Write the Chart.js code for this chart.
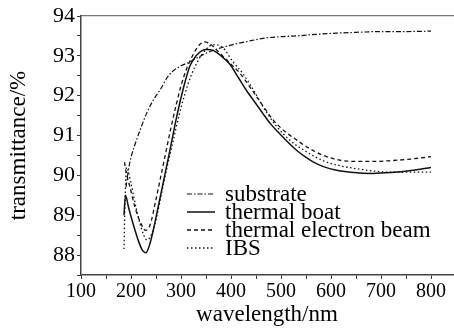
<!DOCTYPE html>
<html>
<head>
<meta charset="utf-8">
<script src="https://cdn.jsdelivr.net/npm/chart.js@4.4.1/dist/chart.umd.min.js"></script>
<style>
  html, body { margin: 0; padding: 0; background: #fff; }
  #wrap { width: 454px; height: 332px; }
</style>
</head>
<body>
<div id="wrap"><canvas id="chart" width="454" height="332"></canvas></div>
<script>
// Data (wavelength in nm, transmittance in %)
const wlSubstrate = [190, 195, 200, 210, 220, 231, 245, 258, 272, 284, 300, 318, 340, 360, 385, 410, 440, 464, 500, 531, 570, 611, 650, 700, 750, 800];
const tSubstrate  = [89.7, 90.15, 90.45, 90.85, 91.2, 91.55, 91.9, 92.14, 92.45, 92.62, 92.75, 92.85, 93.0, 93.12, 93.22, 93.3, 93.38, 93.44, 93.48, 93.5, 93.54, 93.57, 93.59, 93.61, 93.61, 93.62];

const wlBoat = [186, 189, 195, 205, 215, 223, 230, 237, 245, 255, 265, 278, 291, 305, 318, 330, 342, 352, 365, 380, 397, 415, 431, 448, 464, 480, 497, 514, 531, 548, 564, 585, 611, 640, 683, 720, 760, 800];
const tBoat  = [89.0, 89.5, 89.2, 88.75, 88.35, 88.12, 88.06, 88.25, 88.65, 89.25, 89.85, 90.64, 91.45, 92.2, 92.75, 93.0, 93.13, 93.16, 93.13, 93.0, 92.8, 92.45, 92.13, 91.83, 91.55, 91.28, 91.05, 90.83, 90.63, 90.47, 90.34, 90.22, 90.13, 90.08, 90.05, 90.07, 90.12, 90.2];

const wlBeam = [187, 190, 198, 208, 218, 229, 238, 250, 260, 270, 280, 290, 300, 312, 325, 337, 347, 358, 375, 395, 418, 440, 462, 485, 508, 530, 551, 585, 618, 650, 685, 720, 760, 800];
const tBeam  = [90.33, 90.1, 89.7, 89.2, 88.85, 88.62, 88.75, 89.4, 90.0, 90.6, 91.2, 91.75, 92.25, 92.7, 93.05, 93.28, 93.35, 93.3, 93.1, 92.85, 92.56, 92.18, 91.78, 91.38, 91.1, 90.9, 90.72, 90.5, 90.38, 90.35, 90.35, 90.37, 90.41, 90.47];

const wlIbs = [186, 188, 191, 200, 210, 220, 232, 242, 252, 262, 272, 284, 296, 308, 320, 333, 346, 358, 368, 384, 404, 424, 445, 465, 490, 518, 550, 584, 615, 650, 685, 717, 760, 800];
const tIbs  = [88.15, 89.3, 90.2, 89.8, 89.2, 88.7, 88.38, 88.55, 89.0, 89.6, 90.2, 90.85, 91.5, 92.05, 92.5, 92.85, 93.1, 93.25, 93.28, 93.2, 92.85, 92.55, 92.14, 91.7, 91.25, 90.88, 90.6, 90.37, 90.25, 90.17, 90.11, 90.08, 90.08, 90.08];

const seriesLabels = ['substrate', 'thermal boat', 'thermal electron beam', 'IBS'];

// tick positions (labels only on whole values)
const xTickValues = [100, 150, 200, 250, 300, 350, 400, 450, 500, 550, 600, 650, 700, 750, 800];
const yTickValues = [87.5, 88, 88.5, 89, 89.5, 90, 90.5, 91, 91.5, 92, 92.5, 93, 93.5, 94];

const toPoints = (xs, ys) => xs.map((x, i) => ({ x: x, y: ys[i] }));

const serif = '"Liberation Serif", "Times New Roman", serif';

function lineSet(label, xs, ys, dash, width) {
    return {
        label: label,
        data: toPoints(xs, ys),
        borderColor: '#111',
        borderWidth: width,
        borderDash: dash,
        pointRadius: 0,
        fill: false,
        cubicInterpolationMode: 'monotone'
    };
}

// legend drawn inside the plot, lower right
const insideLegend = {
    id: 'insideLegend',
    afterDraw(chart) {
        const { ctx, chartArea } = chart;
        const x0 = chartArea.left + 106;
        const y0 = chartArea.top + 178;
        chart.data.datasets.forEach((ds, i) => {
            const y = y0 + i * 18;
            ctx.save();
            ctx.strokeStyle = ds.borderColor;
            ctx.lineWidth = ds.borderWidth;
            ctx.setLineDash(ds.borderDash || []);
            ctx.beginPath();
            ctx.moveTo(x0, y);
            ctx.lineTo(x0 + 28, y);
            ctx.stroke();
            ctx.setLineDash([]);
            ctx.fillStyle = '#000';
            ctx.font = '23px ' + serif;
            ctx.textBaseline = 'middle';
            ctx.fillText(ds.label, x0 + 38, y + 1);
            ctx.restore();
        });
    }
};

new Chart(document.getElementById('chart'), {
    type: 'line',
    data: {
        datasets: [
            lineSet(seriesLabels[0], wlSubstrate, tSubstrate, [5, 2, 1.5, 2], 1.2),
            lineSet(seriesLabels[1], wlBoat, tBoat, [], 1.5),
            lineSet(seriesLabels[2], wlBeam, tBeam, [4, 3], 1.3),
            lineSet(seriesLabels[3], wlIbs, tIbs, [1.5, 2.5], 1.3)
        ]
    },
    options: {
        responsive: false,
        devicePixelRatio: 1,
        animation: false,
        layout: { padding: { top: 0, right: 1, bottom: 0, left: 0 } },
        plugins: {
            legend: { display: false },
            tooltip: { enabled: false }
        },
        scales: {
            x: {
                type: 'linear',
                position: 'bottom',
                min: 100,
                max: 844,
                afterFit: s => { s.height = 57; },
                afterBuildTicks: s => { s.ticks = xTickValues.map(v => ({ value: v })); },
                ticks: {
                    autoSkip: false,
                    maxRotation: 0,
                    padding: 1,
                    color: '#000',
                    font: { family: serif, size: 20 },
                    callback: v => (v % 100 === 0 ? v : '')
                },
                grid: { drawOnChartArea: false, tickLength: 4, tickColor: '#333' },
                border: { color: '#444', width: 1.5 },
                title: {
                    display: true,
                    text: 'wavelength/nm',
                    color: '#000',
                    font: { family: serif, size: 23 },
                    padding: { top: 0, bottom: 3 }
                }
            },
            xTop: {
                type: 'linear',
                position: 'top',
                min: 100,
                max: 844,
                afterFit: s => { s.height = 16; },
                ticks: { display: false },
                grid: { drawOnChartArea: false, drawTicks: false },
                border: { color: '#777', width: 1.2 }
            },
            y: {
                min: 87.5,
                max: 94,
                afterFit: s => { s.width = 81; },
                afterBuildTicks: s => { s.ticks = yTickValues.map(v => ({ value: v })); },
                ticks: {
                    autoSkip: false,
                    padding: 2,
                    color: '#000',
                    font: { family: serif, size: 22 },
                    callback: v => (Number.isInteger(v) ? v : '')
                },
                grid: { drawOnChartArea: false, tickLength: 4, tickColor: '#333' },
                border: { color: '#444', width: 1.5 },
                title: {
                    display: true,
                    text: 'transmittance/%',
                    color: '#000',
                    font: { family: serif, size: 23 },
                    padding: { top: 5, bottom: 0 }
                }
            }
        }
    },
    plugins: [insideLegend]
});
</script>
</body>
</html>
